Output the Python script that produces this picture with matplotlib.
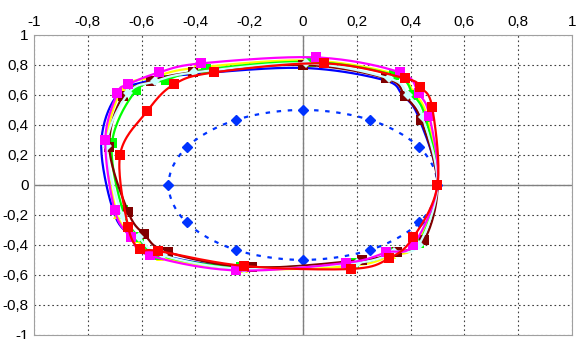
import numpy as np
import matplotlib
matplotlib.use("Agg")
import matplotlib.pyplot as plt

plt.rcParams['font.family'] = ['Liberation Sans', 'DejaVu Sans']

# inner reference loop (blue dotted, diamonds)
ref_x = [0.0, 0.25, 0.433, 0.5, 0.433, 0.25, 0.0, -0.25, -0.433, -0.5, -0.433, -0.25]
ref_y = [0.5, 0.433, 0.25, 0.0, -0.25, -0.433, -0.5, -0.433, -0.25, 0.0, 0.25, 0.433]

blue_x = [0.5, 0.43, 0.37, 0.30, 0.0, -0.40, -0.56, -0.69, -0.75, -0.70, -0.62, -0.52, -0.22, 0.20, 0.33, 0.42]
blue_y = [0.0, 0.45, 0.60, 0.70, 0.78, 0.74, 0.70, 0.60, 0.27, -0.20, -0.36, -0.47, -0.55, -0.52, -0.46, -0.40]

yellow_x = [0.5, 0.46, 0.41, 0.34, 0.02, -0.40, -0.55, -0.67, -0.73, -0.69, -0.62, -0.53, -0.22, 0.18, 0.33, 0.42]
yellow_y = [0.0, 0.46, 0.62, 0.74, 0.83, 0.78, 0.72, 0.64, 0.27, -0.20, -0.36, -0.48, -0.56, -0.54, -0.47, -0.40]

green_x = [0.5, 0.455, 0.41, 0.34, 0.03, -0.36, -0.51, -0.62, -0.71, -0.67, -0.61, -0.53, -0.23, 0.19, 0.34, 0.43]
green_y = [0.0, 0.45, 0.60, 0.73, 0.82, 0.77, 0.70, 0.63, 0.28, -0.17, -0.35, -0.47, -0.55, -0.52, -0.45, -0.39]

maroon_x = [0.5, 0.44, 0.38, 0.31, 0.0, -0.41, -0.565, -0.67, -0.72, -0.65, -0.59, -0.50, -0.19, 0.22, 0.35, 0.45]
maroon_y = [0.0, 0.43, 0.59, 0.71, 0.80, 0.75, 0.69, 0.59, 0.25, -0.18, -0.33, -0.45, -0.55, -0.50, -0.45, -0.37]

cyan_x = [0.5, 0.445, 0.39, 0.32, 0.01, -0.405, -0.55, -0.65, -0.73, -0.67, -0.61, -0.52, -0.22, 0.20, 0.34, 0.43]
cyan_y = [0.0, 0.45, 0.60, 0.71, 0.81, 0.75, 0.69, 0.61, 0.26, -0.21, -0.35, -0.47, -0.56, -0.52, -0.45, -0.40]

magenta_x = [0.5, 0.47, 0.43, 0.36, 0.05, -0.38, -0.535, -0.65, -0.69, -0.735, -0.70, -0.64, -0.57, -0.25, 0.16, 0.31, 0.41]
magenta_y = [0.0, 0.46, 0.61, 0.75, 0.85, 0.81, 0.75, 0.67, 0.61, 0.30, -0.17, -0.35, -0.47, -0.57, -0.52, -0.45, -0.40]

red_x = [0.5, 0.48, 0.435, 0.38, 0.08, -0.33, -0.48, -0.58, -0.68, -0.65, -0.605, -0.54, -0.22, 0.18, 0.32, 0.41]
red_y = [0.0, 0.52, 0.65, 0.71, 0.81, 0.75, 0.67, 0.49, 0.20, -0.28, -0.43, -0.44, -0.54, -0.56, -0.49, -0.35]

ticks = [-1, -0.8, -0.6, -0.4, -0.2, 0, 0.2, 0.4, 0.6, 0.8, 1]


def smooth_closed(x, y, n=20):
    # closed Catmull-Rom curve through the points (like Excel's smoothed line)
    p = np.column_stack([x, y])
    k = len(p)
    out = []
    for i in range(k):
        p0, p1, p2, p3 = p[i - 1], p[i], p[(i + 1) % k], p[(i + 2) % k]
        t = np.linspace(0, 1, n, endpoint=False)[:, None]
        seg = 0.5 * ((2 * p1) + (-p0 + p2) * t + (2 * p0 - 5 * p1 + 4 * p2 - p3) * t ** 2
                     + (-p0 + 3 * p1 - 3 * p2 + p3) * t ** 3)
        out.append(seg)
    out.append(p[:1])
    s = np.vstack(out)
    return s[:, 0], s[:, 1]


fig = plt.figure(figsize=(5.76, 3.39), dpi=100)
ax = fig.add_axes([0.059, 0.012, 0.934, 0.885])

ax.set_xlim(-1, 1)
ax.set_ylim(-1, 1)
ax.set_xticks(ticks)
ax.set_yticks(ticks)
lab = [('%g' % t).replace('.', ',') for t in ticks]
ax.set_xticklabels(lab)
ax.set_yticklabels(lab)
ax.xaxis.tick_top()
ax.tick_params(length=0, labelsize=11, pad=4)
ax.grid(True, color='#404040', linestyle=(0, (1.5, 2.5)), linewidth=0.8)
for s in ax.spines.values():
    s.set_color('#a0a0a0')
ax.axhline(0, color='#808080', linewidth=1)
ax.axvline(0, color='#808080', linewidth=1)

# inner loop
sx, sy = smooth_closed(ref_x, ref_y)
ax.plot(sx, sy, color='#0033ff', linestyle=(0, (2, 3)), linewidth=1.6)
ax.plot(ref_x, ref_y, linestyle='none', marker='D', markersize=5, color='#0033ff')

series = [
    (blue_x, blue_y, '#0000ff', None, None),
    (yellow_x, yellow_y, '#ffff00', '^', '#ffff00'),
    (green_x, green_y, '#00ff00', 's', '#00ff00'),
    (maroon_x, maroon_y, '#800000', 's', '#800000'),
    (cyan_x, cyan_y, '#ccffff', 'D', '#ccffff'),
    (magenta_x, magenta_y, '#ff00ff', 's', '#ff00ff'),
    (red_x, red_y, '#ff0000', 's', '#ff0000'),
]
for x, y, c, m, mc in series:
    sx, sy = smooth_closed(x, y)
    ax.plot(sx, sy, color=c, linewidth=1.6)
    if m:
        ax.plot(x, y, linestyle='none', marker=m, markersize=7 if m == 's' else 5.5,
                color=mc, markeredgewidth=0)

fig.savefig('out.png', dpi=100)
